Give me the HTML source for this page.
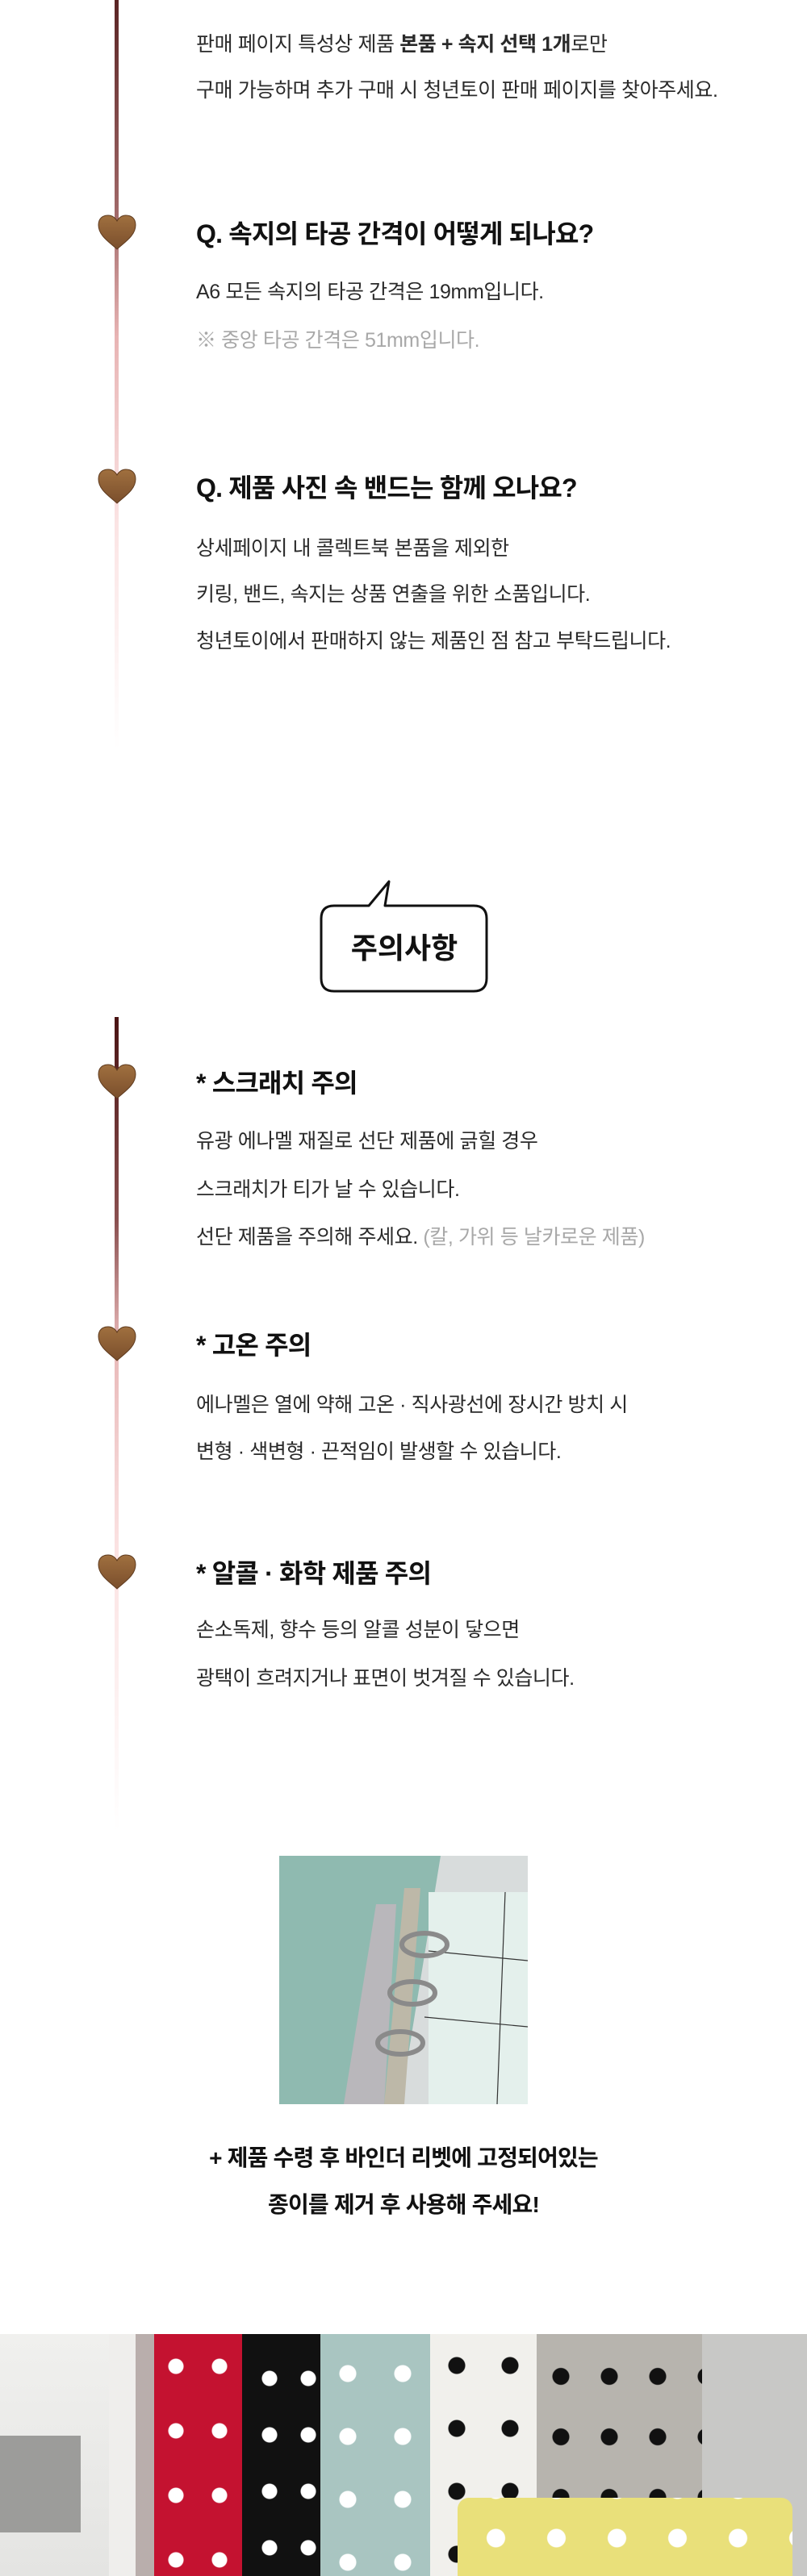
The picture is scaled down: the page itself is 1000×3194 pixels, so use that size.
<!DOCTYPE html>
<html><head><meta charset="utf-8">
<style>
*{margin:0;padding:0;box-sizing:border-box}
body{width:1000px;height:3194px;background:#fff;position:relative;overflow:hidden;font-family:"Liberation Sans","Noto Sans CJK KR",sans-serif;color:#2a2a2a}
.t{position:absolute;left:243px;font-size:25px;line-height:30px;white-space:nowrap;transform:translateY(-50%);letter-spacing:-0.4px}
.h{position:absolute;left:243px;font-size:32px;font-weight:700;color:#111;white-space:nowrap;transform:translateY(-50%);letter-spacing:-0.8px}
.g{color:#a8a8a8}
.heart{position:absolute;left:121px;width:48px;height:44px;transform:translateY(-50%)}
.line{position:absolute;left:142px;width:5px}
.dots{position:absolute;top:2894px;height:300px}
.cap{position:absolute;left:0;width:1000px;transform:translateY(-50%);text-align:center;font-size:28px;font-weight:700;color:#111;letter-spacing:-0.8px}
</style></head><body>

<div class="line" style="top:0;height:930px;background:linear-gradient(#5a2424 0%,#a06868 28%,#e8b4b4 45%,#fbe4e4 70%,#fff 100%)"></div>
<div class="line" style="top:1261px;height:1010px;background:linear-gradient(#4a1414 0%,#8a5050 25%,#e8b8b8 40%,#fbe2e2 65%,#fff 100%)"></div>

<svg width="0" height="0" style="position:absolute"><defs><linearGradient id="hg" x1="0" y1="0" x2="0" y2="1"><stop offset="0" stop-color="#a0703f"/><stop offset="1" stop-color="#7a4e2c"/></linearGradient>
<path id="hp" d="M24 43 C14 34 1 26 1 13 C1 5 6 1 13 1 C18 1 22 4 24 8 C26 4 30 1 35 1 C42 1 47 5 47 13 C47 26 34 34 24 43Z"/></defs></svg>

<div class="t" style="top:55px">판매 페이지 특성상 제품 <b>본품 + 속지 선택 1개</b>로만</div>
<div class="t" style="top:112px">구매 가능하며 추가 구매 시 청년토이 판매 페이지를 찾아주세요.</div>

<svg class="heart" style="top:288px" viewBox="0 0 48 44"><use href="#hp" fill="url(#hg)" stroke="#5e3a1e" stroke-width="1"/></svg>
<div class="h" style="top:288px">Q. 속지의 타공 간격이 어떻게 되나요?</div>
<div class="t" style="top:362px">A6 모든 속지의 타공 간격은 19mm입니다.</div>
<div class="t g" style="top:422px">※ 중앙 타공 간격은 51mm입니다.</div>

<svg class="heart" style="top:603px" viewBox="0 0 48 44"><use href="#hp" fill="url(#hg)" stroke="#5e3a1e" stroke-width="1"/></svg>
<div class="h" style="top:603px">Q. 제품 사진 속 밴드는 함께 오나요?</div>
<div class="t" style="top:680px">상세페이지 내 콜렉트북 본품을 제외한</div>
<div class="t" style="top:737px">키링, 밴드, 속지는 상품 연출을 위한 소품입니다.</div>
<div class="t" style="top:795px">청년토이에서 판매하지 않는 제품인 점 참고 부탁드립니다.</div>

<svg style="position:absolute;left:390px;top:1085px" width="230" height="150" viewBox="0 0 230 150">
<path d="M24 38 H67 L92 8 L87 38 H197 Q213 38 213 54 V128 Q213 144 197 144 H24 Q8 144 8 128 V54 Q8 38 24 38Z" fill="#fff" stroke="#111" stroke-width="3" stroke-linejoin="round"/>
<text x="111" y="103" text-anchor="middle" font-family="Liberation Sans,Noto Sans CJK KR,sans-serif" font-weight="700" font-size="36" fill="#111">주의사항</text>
</svg>

<svg class="heart" style="top:1341px" viewBox="0 0 48 44"><use href="#hp" fill="url(#hg)" stroke="#5e3a1e" stroke-width="1"/></svg>
<div class="h" style="top:1341px">* 스크래치 주의</div>
<div class="t" style="top:1415px">유광 에나멜 재질로 선단 제품에 긁힐 경우</div>
<div class="t" style="top:1475px">스크래치가 티가 날 수 있습니다.</div>
<div class="t" style="top:1534px">선단 제품을 주의해 주세요. <span class="g">(칼, 가위 등 날카로운 제품)</span></div>

<svg class="heart" style="top:1666px" viewBox="0 0 48 44"><use href="#hp" fill="url(#hg)" stroke="#5e3a1e" stroke-width="1"/></svg>
<div class="h" style="top:1666px">* 고온 주의</div>
<div class="t" style="top:1742px">에나멜은 열에 약해 고온 · 직사광선에 장시간 방치 시</div>
<div class="t" style="top:1800px">변형 · 색변형 · 끈적임이 발생할 수 있습니다.</div>

<svg class="heart" style="top:1949px" viewBox="0 0 48 44"><use href="#hp" fill="url(#hg)" stroke="#5e3a1e" stroke-width="1"/></svg>
<div class="h" style="top:1949px">* 알콜 · 화학 제품 주의</div>
<div class="t" style="top:2021px">손소독제, 향수 등의 알콜 성분이 닿으면</div>
<div class="t" style="top:2081px">광택이 흐려지거나 표면이 벗겨질 수 있습니다.</div>

<svg style="position:absolute;left:346px;top:2301px" width="308" height="308" viewBox="0 0 308 308">
<rect width="308" height="308" fill="#c9cfcd"/>
<rect x="0" y="0" width="200" height="308" fill="#8fbab0"/>
<path d="M200 0 H308 V308 H150Z" fill="#d8dcdc"/>
<path d="M145 60 L130 308 H80 L120 60Z" fill="#b9b7bb"/>
<path d="M175 40 L155 308 H130 L155 40Z" fill="#bdb8a8"/>
<rect x="185" y="45" width="123" height="263" fill="#e4f0ec"/>
<g stroke="#333" stroke-width="1.2"><line x1="280" y1="45" x2="270" y2="308"/><line x1="185" y1="118" x2="308" y2="130"/><line x1="180" y1="200" x2="308" y2="212"/></g>
<g fill="none" stroke="#8a8a8a" stroke-width="6"><ellipse cx="180" cy="110" rx="28" ry="14"/><ellipse cx="165" cy="170" rx="28" ry="14"/><ellipse cx="150" cy="232" rx="28" ry="14"/></g>
</svg>
<div class="cap" style="top:2674px">+ 제품 수령 후 바인더 리벳에 고정되어있는</div>
<div class="cap" style="top:2732px">종이를 제거 후 사용해 주세요!</div>

<div style="position:absolute;left:0;top:2894px;width:1000px;height:300px;background:#c8c8c6"></div>
<div style="position:absolute;left:0;top:2894px;width:135px;height:300px;background:linear-gradient(#f0f0ee,#e4e4e2)"></div>
<div style="position:absolute;left:0;top:3020px;width:100px;height:120px;background:#9c9c9a"></div>
<div style="position:absolute;left:135px;top:2894px;width:56px;height:300px;background:#efeeec"></div>
<div style="position:absolute;left:168px;top:2894px;width:24px;height:300px;background:#b9aeac"></div>
<div class="dots" style="left:191px;width:109px;background:#c41230 radial-gradient(circle,#fff 9px,transparent 10px) 0 0/54px 80px"></div>
<div class="dots" style="left:300px;width:97px;background:#111 radial-gradient(circle,#fff 9px,transparent 10px) 10px 20px/48px 70px"></div>
<div class="dots" style="left:397px;width:136px;background:#a9c5c1 radial-gradient(circle,#fff 10px,transparent 11px) 0 10px/68px 78px"></div>
<div class="dots" style="left:533px;width:132px;background:#f1f0ec radial-gradient(circle,#111 10px,transparent 11px) 0 0/66px 78px"></div>
<div class="dots" style="left:665px;width:205px;background:#b7b4ae radial-gradient(circle,#111 10px,transparent 11px) 0 15px/60px 75px"></div>
<div style="position:absolute;left:567px;top:3097px;width:415px;height:97px;border-radius:14px 14px 0 0;background:#e9e07a radial-gradient(circle,#fff 11px,transparent 12px) 10px 20px/75px 60px"></div>
</body></html>
